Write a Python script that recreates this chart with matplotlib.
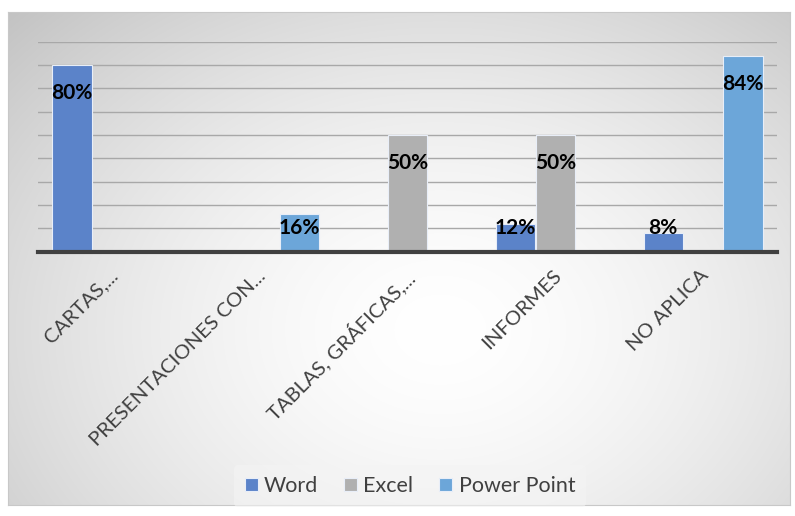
import numpy as np
import matplotlib
matplotlib.use('Agg')
import matplotlib.pyplot as plt

# datos
categories = ['CARTAS,...', 'PRESENTACIONES CON...', 'TABLAS, GRÁFICAS,...', 'INFORMES', 'NO APLICA']
series_names = ['Word', 'Excel', 'Power Point']
word = [0.80, 0.0, 0.0, 0.12, 0.08]
excel = [0.0, 0.0, 0.50, 0.50, 0.0]
power_point = [0.0, 0.16, 0.0, 0.0, 0.84]

colors = ['#5B83C9', '#B0B0B0', '#6CA6D9']

plt.rcParams['font.family'] = ['Lato', 'DejaVu Sans']

W, H = 795, 516
fig = plt.figure(figsize=(W / 100, H / 100), dpi=100)
fig.patch.set_facecolor('white')

# fondo del area del grafico con degradado radial
x0, y0, x1, y1 = 8, 12, 790, 505
bg = fig.add_axes([x0 / W, 1 - y1 / H, (x1 - x0) / W, (y1 - y0) / H])
gx, gy = np.meshgrid(np.arange(x0, x1), np.arange(y0, y1))
r = np.hypot((gx - 440) / 430, (gy - 330) / 330)
shade = 1 - 0.24 * np.clip(r, 0, 1.4) ** 1.6 / 1.4 ** 1.6
img = np.dstack([shade, shade, shade])
bg.imshow(img, aspect='auto', extent=[0, 1, 0, 1], interpolation='bilinear')
bg.set_xticks([])
bg.set_yticks([])
for s in bg.spines.values():
    s.set_color('#c8c8c8')
    s.set_linewidth(0.8)

# area de trazado
left, right, top, base = 38, 777, 41.7, 251.7
ax = fig.add_axes([left / W, 1 - base / H, (right - left) / W, (base - top) / H])
ax.set_facecolor('none')

x = np.arange(len(categories))
width = 0.27
data = [word, excel, power_point]
offsets = [-width, 0, width]
for vals, off, col, name in zip(data, offsets, colors, series_names):
    ax.bar(x + off, vals, width * 0.98, color=col, edgecolor='#e8eef8',
           linewidth=0.8, label=name, zorder=3)
    for xi, v in zip(x, vals):
        if v > 0:
            ax.text(xi + off, max(v - 0.12, 0.103), f'{v * 100:.0f}%',
                    ha='center', va='center', fontsize=15,
                    fontweight='bold', color='black', zorder=4)

ax.set_xlim(-0.5, len(categories) - 0.5)
ax.set_ylim(0, 0.9)
ax.set_yticks(np.arange(0.1, 0.91, 0.1))
ax.yaxis.grid(True, color='#a8a8a8', linewidth=1.0, zorder=1)
ax.tick_params(axis='y', left=False, labelleft=False)
ax.tick_params(axis='x', length=0, pad=11)
for s in ['top', 'right', 'left']:
    ax.spines[s].set_visible(False)
ax.spines['bottom'].set_color('#404040')
ax.spines['bottom'].set_linewidth(3)
ax.spines['bottom'].set_zorder(5)

ax.set_xticks(x - 0.02)
ax.set_xticklabels(categories, rotation=45, ha='right', va='top',
                   rotation_mode='anchor', fontsize=14.7, color='#404040')

leg = fig.legend(loc='center', bbox_to_anchor=(410 / W, 1 - 486 / H), ncol=3,
                 frameon=True, fontsize=15.5, handlelength=0.6, handleheight=0.6,
                 handletextpad=0.3, columnspacing=1.2, borderpad=0.5)
leg.get_frame().set_facecolor('#f4f4f4')
leg.get_frame().set_edgecolor('none')
leg.get_frame().set_alpha(0.6)
for t in leg.get_texts():
    t.set_color('#404040')

fig.savefig('out.png', dpi=100)
